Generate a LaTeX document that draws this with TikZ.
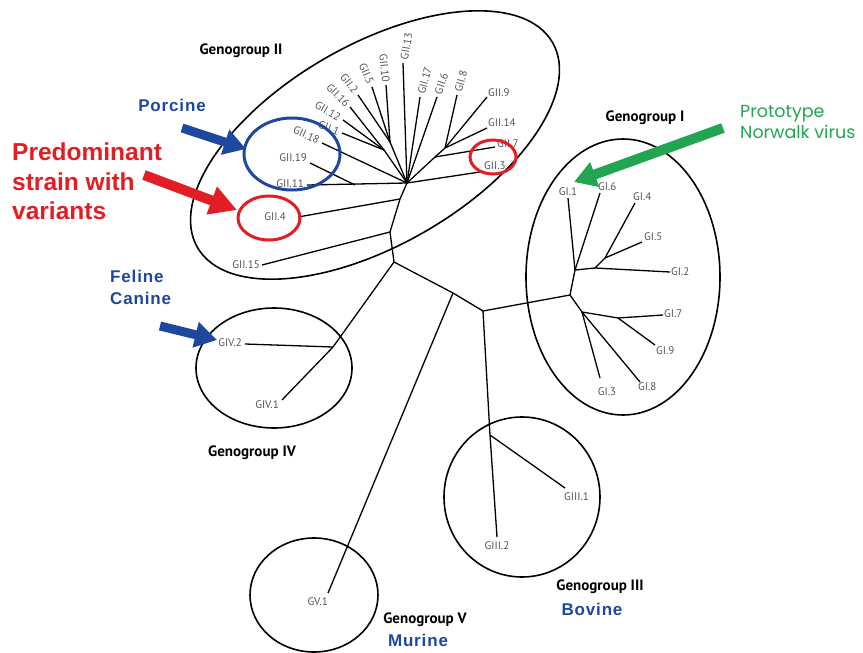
\documentclass[tikz,border=0pt]{standalone}
\usepackage{fontspec}
\setmainfont{PT Sans}
\newfontfamily\notefont[LetterSpace=5]{Liberation Sans}
\newfontfamily\bignotefont{Liberation Sans}
\newfontfamily\handfont{Poppins}
\usetikzlibrary{arrows.meta}

\definecolor{leafgray}{RGB}{85,85,85}
\definecolor{hostblue}{RGB}{30,72,160}
\definecolor{strainred}{RGB}{226,30,36}
\definecolor{protogreen}{RGB}{34,165,80}

\begin{document}
\begin{tikzpicture}[x=1pt,y=-1pt,
	branch/.style={line width=1.3pt},
	ring/.style={line width=1.6pt},
	mark ring/.style={line width=3pt},
	leaf/.style={font=\fontsize{11}{12}\selectfont, text=leafgray, inner sep=0pt},
	group/.style={font=\bfseries\fontsize{15}{17}\selectfont, inner sep=0pt},
	host/.style={font=\notefont\bfseries\fontsize{17}{22}\selectfont, text=hostblue, inner sep=0pt, align=left},
	fat arrow/.style={line width=9pt, -{Triangle[length=22pt,width=25pt]}}]
	\useasboundingbox (0,0) rectangle (863,653);
	
	% group outlines
	\draw[ring, rotate around={30:(375,145)}] (375,145) ellipse [x radius=205, y radius=100];
	\draw[ring] (623,277) ellipse [x radius=97, y radius=138];
	\draw[ring] (274,368) ellipse [x radius=78, y radius=60];
	\draw[ring] (522,497) ellipse [x radius=78, y radius=80];
	\draw[ring] (314,595) ellipse [x radius=64, y radius=57];
	
	% inner joints
	\coordinate (root) at (394,262);
	\coordinate (h2) at (407,183);
	\coordinate (t4) at (400,199);
	\coordinate (t15) at (390,232);
	\coordinate (f1) at (390,142);
	\coordinate (f2) at (384,150);
	\coordinate (j19) at (355,185);
	\coordinate (k1) at (445,148);
	\coordinate (k2) at (435,157);
	\coordinate (g4) at (333,347);
	\coordinate (m1) at (453,293);
	\coordinate (m2) at (483,311);
	\coordinate (g3) at (490,435);
	\coordinate (g1) at (570,295);
	\coordinate (g1a) at (575,270);
	\coordinate (g1b) at (595,268);
	\coordinate (g1c) at (605,258);
	\coordinate (g1d) at (582,312);
	\coordinate (g1e) at (618,318);
	
	% leaf tips
	\coordinate (tII4) at (298,217);
	\coordinate (tII15) at (262,265);
	\coordinate (tII11) at (307,185);
	\coordinate (tII19) at (310,163);
	\coordinate (tII18) at (322,143);
	\coordinate (tII1) at (342,133);
	\coordinate (tII12) at (343,120);
	\coordinate (tII16) at (350,107);
	\coordinate (tII2) at (358,95);
	\coordinate (tII5) at (372,87);
	\coordinate (tII10) at (386,85);
	\coordinate (tII13) at (403,63);
	\coordinate (tII17) at (420,97);
	\coordinate (tII6) at (437,97);
	\coordinate (tII8) at (457,95);
	\coordinate (tII9) at (487,97);
	\coordinate (tII14) at (487,128);
	\coordinate (tII7) at (495,147);
	\coordinate (tII3) at (480,172);
	\coordinate (tIV2) at (245,344);
	\coordinate (tIV1) at (282,400);
	\coordinate (tV1) at (328,593);
	\coordinate (tIII1) at (565,488);
	\coordinate (tIII2) at (497,537);
	\coordinate (tI1) at (568,198);
	\coordinate (tI6) at (600,193);
	\coordinate (tI4) at (635,203);
	\coordinate (tI5) at (642,242);
	\coordinate (tI2) at (670,272);
	\coordinate (tI7) at (663,315);
	\coordinate (tI9) at (655,345);
	\coordinate (tI3) at (600,378);
	\coordinate (tI8) at (640,382);
	
	% tree
	\draw[branch] (h2) -- (t4) -- (t15) -- (root);
	\draw[branch] (t4) -- (tII4);
	\draw[branch] (t15) -- (tII15);
	\draw[branch] (h2) -- (tII11);
	\draw[branch] (j19) -- (tII19);
	\draw[branch] (h2) -- (tII18);
	\draw[branch] (h2) -- (f1);
	\draw[branch] (h2) -- (f2);
	\draw[branch] (f2) -- (tII1);
	\draw[branch] (f2) -- (tII12);
	\draw[branch] (f2) -- (tII16);
	\draw[branch] (f1) -- (tII2);
	\draw[branch] (f1) -- (tII5);
	\draw[branch] (f1) -- (tII10);
	\draw[branch] (h2) -- (tII13);
	\draw[branch] (h2) -- (tII17);
	\draw[branch] (h2) -- (tII6);
	\draw[branch] (h2) -- (k2) -- (k1);
	\draw[branch] (k1) -- (tII8);
	\draw[branch] (k1) -- (tII9);
	\draw[branch] (k1) -- (tII14);
	\draw[branch] (k2) -- (tII7);
	\draw[branch] (h2) -- (tII3);
	
	\draw[branch] (root) -- (g4);
	\draw[branch] (g4) -- (tIV2);
	\draw[branch] (g4) -- (tIV1);
	\draw[branch] (root) -- (m1) -- (m2) -- (g1);
	\draw[branch] (m1) -- (tV1);
	\draw[branch] (m2) -- (g3) -- (tIII2);
	\draw[branch] (g3) -- (tIII1);
	
	\draw[branch] (g1) -- (g1a) -- (tI1);
	\draw[branch] (g1a) -- (tI6);
	\draw[branch] (g1a) -- (g1b) -- (tI2);
	\draw[branch] (g1b) -- (g1c) -- (tI4);
	\draw[branch] (g1c) -- (tI5);
	\draw[branch] (g1) -- (g1d) -- (g1e) -- (tI7);
	\draw[branch] (g1e) -- (tI9);
	\draw[branch] (g1d) -- (tI3);
	\draw[branch] (g1d) -- (tI8);
	
	% leaf labels
	\node[leaf, anchor=east] (gii4) at (286,217) {GII.4};
	\node[leaf, anchor=east] (gii15) at (260,265) {GII.15};
	\node[leaf, anchor=east] (gii11) at (304,184) {GII.11};
	\node[leaf, anchor=east] (gii19) at (307,158) {GII.19};
	\node[leaf, anchor=east, rotate=-25] (gii18) at (319,141) {GII.18};
	\node[leaf, anchor=east, rotate=-22] (gii1) at (339,132) {GII.1};
	\node[leaf, anchor=east, rotate=-30] (gii12) at (340,118) {GII.12};
	\node[leaf, anchor=east, rotate=-45] (gii16) at (348,105) {GII.16};
	\node[leaf, anchor=east, rotate=-52] (gii2) at (356,92) {GII.2};
	\node[leaf, anchor=east, rotate=-66] (gii5) at (371,84) {GII.5};
	\node[leaf, anchor=east, rotate=-84] (gii10) at (386,82) {GII.10};
	\node[leaf, anchor=west, rotate=80] (gii13) at (404,60) {GII.13};
	\node[leaf, anchor=west, rotate=75] (gii17) at (421,94) {GII.17};
	\node[leaf, anchor=west, rotate=72] (gii6) at (438,94) {GII.6};
	\node[leaf, anchor=west, rotate=75] (gii8) at (458,92) {GII.8};
	\node[leaf, anchor=west] (gii9) at (488,93) {GII.9};
	\node[leaf, anchor=west] (gii14) at (488,123) {GII.14};
	\node[leaf, anchor=west] (gii7) at (497,144) {GII.7};
	\node[leaf, anchor=west] (gii3) at (484,166) {GII.3};
	\node[leaf, anchor=east] (giv2) at (242,343) {GIV.2};
	\node[leaf, anchor=east] (giv1) at (279,405) {GIV.1};
	\node[leaf, anchor=east] (gv1) at (328,602) {GV.1};
	\node[leaf, anchor=north west] (giii1) at (564,492) {GIII.1};
	\node[leaf, anchor=north] (giii2) at (497,541) {GIII.2};
	\node[leaf, anchor=south] (gi1) at (568,196) {GI.1};
	\node[leaf, anchor=south west] (gi6) at (598,191) {GI.6};
	\node[leaf, anchor=south west] (gi4) at (633,201) {GI.4};
	\node[leaf, anchor=south west] (gi5) at (644,241) {GI.5};
	\node[leaf, anchor=west] (gi2) at (671,272) {GI.2};
	\node[leaf, anchor=west] (gi7) at (664,314) {GI.7};
	\node[leaf, anchor=north west] (gi9) at (656,346) {GI.9};
	\node[leaf, anchor=north] (gi3) at (607,387) {GI.3};
	\node[leaf, anchor=north west] (gi8) at (638,382) {GI.8};
	
	% group names
	\node[group] (nameII) at (241,51) {Genogroup II};
	\node[group] (nameI) at (645,118) {Genogroup I};
	\node[group] (nameIV) at (252,453) {Genogroup IV};
	\node[group] (nameIII) at (600,587) {Genogroup III};
	\node[group] (nameV) at (425,620) {Genogroup V};
	
	% hosts and notes
	\node[host] (porcine) at (172,105) {Porcine};
	\node[host, anchor=north west] (feline) at (110,270) {Feline\\Canine};
	\node[host] (bovine) at (592,609) {Bovine};
	\node[host] (murine) at (418,640) {Murine};
	\node[anchor=north west, align=left, inner sep=0pt, text=strainred, font=\bignotefont\bfseries\fontsize{24.5}{29.5}\selectfont] (strain) at (12,143) {Predominant\\strain with\\variants};
	\node[anchor=north west, align=left, inner sep=0pt, text=protogreen, font=\handfont\fontsize{17.5}{21}\selectfont] (proto) at (740,105) {Prototype\\Norwalk virus};
	
	% highlights
	\draw[mark ring, hostblue] (292,154) ellipse [x radius=48, y radius=36];
	\draw[mark ring, strainred] (269,218) ellipse [x radius=31, y radius=22];
	\draw[mark ring, strainred] (493,157) ellipse [x radius=23, y radius=17];
	
	\coordinate (pa) at (182,128);
	\coordinate (pb) at (246,149);
	\coordinate (sa) at (144,175);
	\coordinate (sb) at (237,210);
	\coordinate (fa) at (160,326);
	\coordinate (fb) at (217,340);
	\coordinate (na) at (723,128);
	\coordinate (nb) at (574,182);
	\draw[fat arrow, hostblue] (pa) -- (pb);
	\draw[fat arrow, strainred, line width=10pt, -{Triangle[length=27pt,width=28pt]}] (sa) -- (sb);
	\draw[fat arrow, hostblue] (fa) -- (fb);
	\draw[fat arrow, protogreen, line width=10pt] (na) -- (nb);
\end{tikzpicture}
\end{document}
